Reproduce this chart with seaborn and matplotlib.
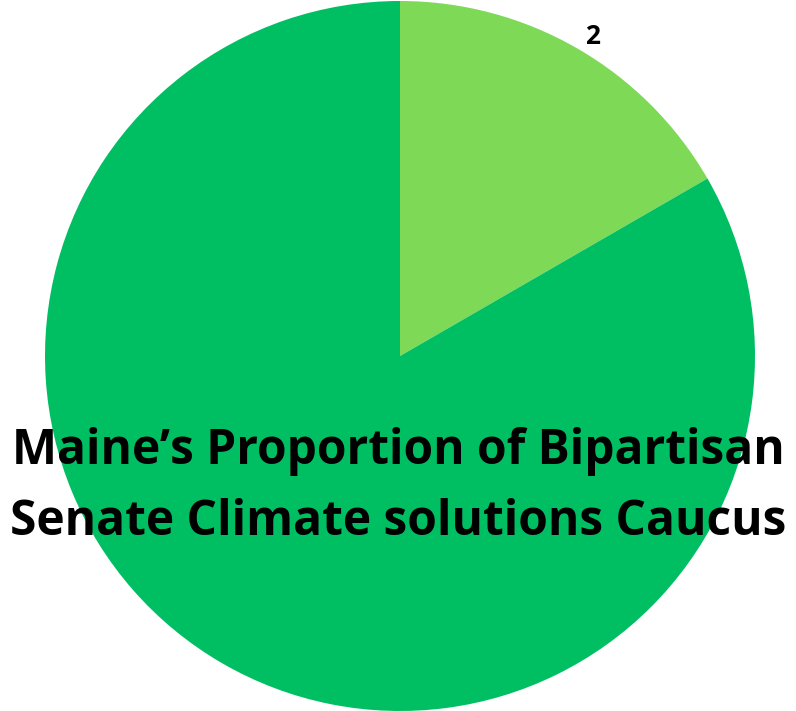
import matplotlib
matplotlib.use("Agg")
import matplotlib.pyplot as plt
import seaborn as sns

# Maine's share of the caucus
members = [2, 10]
slice_labels = ["2", ""]
slice_colors = ["#7ED957", "#00BF63"]
title_lines = ["Maine\u2019s Proportion of Bipartisan", "Senate Climate solutions Caucus"]

sns.set_theme(style="white")
plt.rcParams['font.family'] = ['Open Sans', 'DejaVu Sans']

fig = plt.figure(figsize=(7.96, 7.11), dpi=100)
ax = fig.add_axes([0, 0, 1, 1])
ax.pie(members, labels=slice_labels, colors=slice_colors,
       startangle=90, counterclock=False, radius=355, center=(400, 355),
       labeldistance=1.04, wedgeprops=dict(linewidth=0),
       textprops=dict(fontsize=19, fontweight='bold', color='black'))
ax.set_xlim(0, 796)
ax.set_ylim(0, 711)
ax.axis('off')

ax.text(398, 224, "\n".join(title_lines), ha='center', va='center',
        fontsize=34.5, fontweight='bold', color='black', linespacing=1.62)

fig.savefig("out.png", dpi=100, facecolor='white')
